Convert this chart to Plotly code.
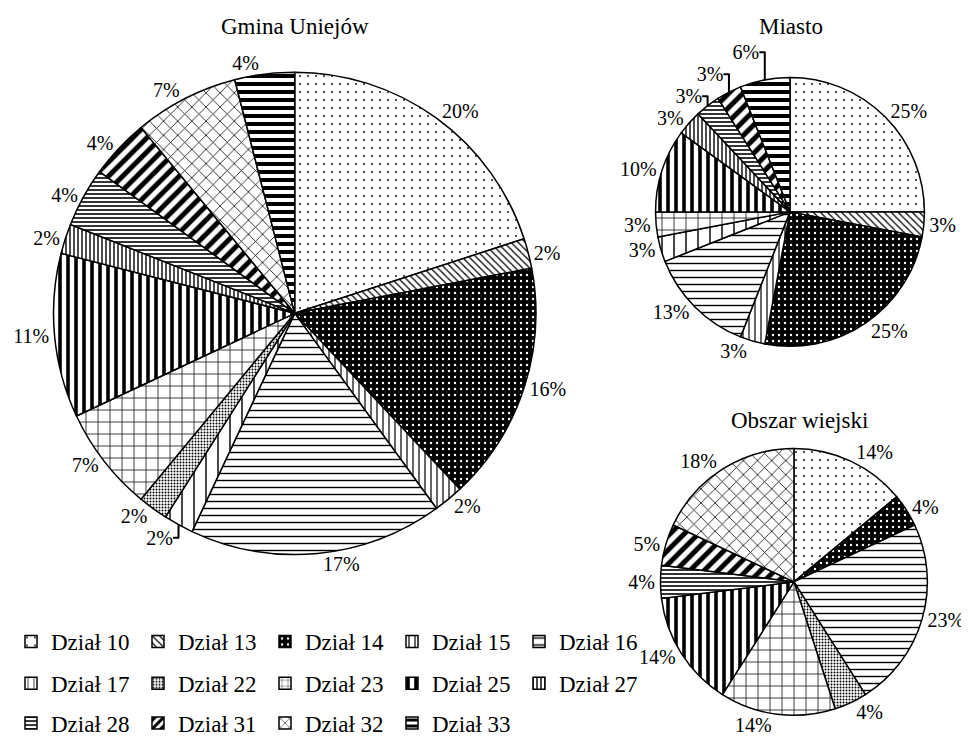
import plotly.graph_objects as go

# ---------------- data ----------------
categories = ["Dział 10", "Dział 13", "Dział 14", "Dział 15", "Dział 16", "Dział 17", "Dział 22",
              "Dział 23", "Dział 25", "Dział 27", "Dział 28", "Dział 31", "Dział 32", "Dział 33"]

gmina_labels = ["Dział 10", "Dział 13", "Dział 14", "Dział 15", "Dział 16", "Dział 17", "Dział 22",
                "Dział 23", "Dział 25", "Dział 27", "Dział 28", "Dział 31", "Dział 32", "Dział 33"]
gmina_values = [20, 2, 16, 2, 17, 2, 2, 7, 11, 2, 4, 4, 7, 4]

miasto_labels = ["Dział 10", "Dział 13", "Dział 14", "Dział 15", "Dział 16", "Dział 17",
                 "Dział 23", "Dział 25", "Dział 27", "Dział 28", "Dział 31", "Dział 33"]
miasto_values = [25, 3, 25, 3, 13, 3, 3, 10, 3, 3, 3, 6]

wies_labels = ["Dział 10", "Dział 14", "Dział 16", "Dział 22", "Dział 23", "Dział 25",
               "Dział 28", "Dział 31", "Dział 32"]
wies_values = [14, 4, 23, 4, 14, 14, 4, 5, 18]

legend_rows = [categories[0:5], categories[5:10], categories[10:14]]

titles = ["Gmina Uniejów", "Miasto", "Obszar wiejski"]

# ---------------- layout / styles ----------------
W, H = 961, 737          # page body adds an 8px margin around the figure
FONT = "Liberation Serif"
STYLE = {
    "Dział 10": dict(shape=".", size=8, solidity=0.04, bg="white", fg="black"),
    "Dział 13": dict(shape="\\", size=5, solidity=0.25, bg="white", fg="black"),
    "Dział 14": dict(shape=".", size=6, solidity=0.12, bg="black", fg="white"),
    "Dział 15": dict(shape="|", size=6, solidity=0.2, bg="white", fg="black"),
    "Dział 16": dict(shape="-", size=7, solidity=0.2, bg="white", fg="black"),
    "Dział 17": dict(shape="|", size=12, solidity=0.12, bg="white", fg="black"),
    "Dział 22": dict(shape=".", size=3, solidity=0.35, bg="white", fg="black"),
    "Dział 23": dict(shape="+", size=12, solidity=0.12, bg="white", fg="black"),
    "Dział 25": dict(shape="|", size=8, solidity=0.45, bg="white", fg="black"),
    "Dział 27": dict(shape="|", size=4, solidity=0.35, bg="white", fg="black"),
    "Dział 28": dict(shape="-", size=4, solidity=0.4, bg="white", fg="black"),
    "Dział 31": dict(shape="/", size=10, solidity=0.5, bg="white", fg="black"),
    "Dział 32": dict(shape="x", size=10, solidity=0.15, bg="white", fg="black"),
    "Dział 33": dict(shape="-", size=8, solidity=0.5, bg="white", fg="black"),
}
# smaller pattern tiles so the 12px legend swatches show the hatch
LEGEND_SIZE = {"Dział 17": 6, "Dział 23": 6, "Dział 32": 6, "Dział 31": 6, "Dział 33": 6}


def px_dom(cx, cy, r):
    """pixel centre/radius -> paper domain"""
    return [(cx - r) / W, (cx + r) / W], [1 - (cy + r) / H, 1 - (cy - r) / H]


def marker_for(labels, legend=False):
    sizes = [(LEGEND_SIZE.get(l, STYLE[l]["size"]) if legend else STYLE[l]["size"]) for l in labels]
    return dict(
        colors=["white"] * len(labels),
        line=dict(color="black", width=1.5),
        pattern=dict(
            shape=[STYLE[l]["shape"] for l in labels],
            size=sizes,
            solidity=[STYLE[l]["solidity"] for l in labels],
            bgcolor=[STYLE[l]["bg"] for l in labels],
            fgcolor=[STYLE[l]["fg"] for l in labels],
            fillmode="replace",
        ),
    )


def pie(labels, values, dom):
    dx, dy = dom
    return go.Pie(
        labels=labels, values=values, sort=False, direction="clockwise", rotation=0,
        domain=dict(x=dx, y=dy),
        marker=marker_for(labels),
        texttemplate="%{percent:.0%}", textposition="outside",
        textfont=dict(family=FONT, size=20, color="black"),
        showlegend=False, hoverinfo="label+percent",
    )


fig = go.Figure()
fig.add_trace(pie(gmina_labels, gmina_values, px_dom(287, 307, 244)))
fig.add_trace(pie(miasto_labels, miasto_values, px_dom(788, 205, 136)))
fig.add_trace(pie(wies_labels, wies_values, px_dom(792, 577, 135)))

# legend-only helper traces (one per legend row), collapsed at the centre of the big pie
legend_names = ["legend", "legend2", "legend3"]
hx, hy = px_dom(287, 307, 0.02)
for row, lg in zip(legend_rows, legend_names):
    fig.add_trace(go.Pie(
        labels=row, values=[1] * len(row), sort=False,
        domain=dict(x=hx, y=hy),
        marker=marker_for(row, legend=True), textinfo="none", hoverinfo="skip",
        showlegend=True, legend=lg,
    ))

legend_common = dict(
    orientation="h", xanchor="left", yanchor="middle", x=0,
    font=dict(family=FONT, size=23, color="black"),
    entrywidth=82, entrywidthmode="pixels", bgcolor="rgba(0,0,0,0)",
    traceorder="normal",
)

title_pos = [(287, 19), (789, 19), (798, 415)]
annotations = [
    dict(text=t, x=x / W, y=1 - y / H, xref="paper", yref="paper", xanchor="center",
         yanchor="middle", showarrow=False, font=dict(family=FONT, size=23, color="black"))
    for t, (x, y) in zip(titles, title_pos)
]

fig.update_layout(
    width=W, height=H,
    margin=dict(l=0, r=0, t=0, b=0),
    paper_bgcolor="white", plot_bgcolor="white",
    font=dict(family=FONT, color="black"),
    legend=dict(legend_common, y=1 - 637 / H),
    legend2=dict(legend_common, y=1 - 679 / H),
    legend3=dict(legend_common, y=1 - 719 / H),
    annotations=annotations,
)

fig.write_html("out.html")
